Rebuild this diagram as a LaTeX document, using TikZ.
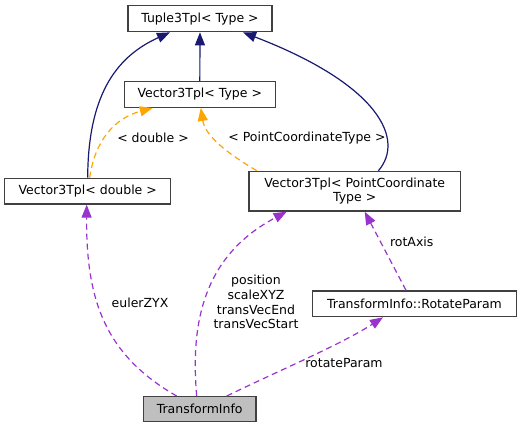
\documentclass[tikz,border=0pt]{standalone}
\usepackage{fontspec}
\setmainfont{DejaVu Sans}
\usetikzlibrary{arrows.meta}
\definecolor{inhcol}{HTML}{191970}
\definecolor{tplcol}{HTML}{FFA500}
\definecolor{usecol}{HTML}{9A32CD}
\definecolor{boxline}{HTML}{404040}
\begin{document}
\begin{tikzpicture}[x=1pt,y=-1pt,font=\fontsize{12.5}{14.7}\selectfont,
  cls/.style={draw=boxline,line width=1.3pt,fill=white,inner sep=0pt,align=center},
  inh/.style={draw=inhcol,line width=1.2pt,-{Triangle[length=13pt,width=10pt]}},
  tpl/.style={draw=tplcol,line width=1.2pt,dash pattern=on 6pt off 4pt,-{Triangle[length=13pt,width=10pt]}},
  use/.style={draw=usecol,line width=1.2pt,dash pattern=on 6pt off 4pt,-{Triangle[length=13pt,width=10pt]}}]
\useasboundingbox (0,0) rectangle (522,428);
%%% the classes
\node[cls,minimum width=144pt,minimum height=26pt] (tuple) at (200,18.7) {Tuple3Tpl< Type >};
\node[cls,minimum width=151pt,minimum height=25.6pt] (vtype) at (199.8,94.5) {Vector3Tpl< Type >};
\node[cls,minimum width=166pt,minimum height=25.7pt] (vdouble) at (87.7,191.2) {Vector3Tpl< double >};
\node[cls,minimum width=211.3pt,minimum height=39.7pt] (vpoint) at (354.7,191.2) {Vector3Tpl< PointCoordinate\\Type >};
\node[cls,minimum width=204.4pt,minimum height=25.7pt] (rotparam) at (414.5,303.8) {TransformInfo::RotateParam};
\node[cls,fill=black!25,minimum width=112.7pt,minimum height=25pt] (tinfo) at (199.7,409.2) {TransformInfo};
%%% inheritance
\draw[inh] (vtype) -- (tuple);
\draw[inh] (vdouble.north) .. controls (88,90) and (120,55) .. ([xshift=-30pt]tuple.south);
\draw[inh] ([xshift=23.7pt]vpoint.north) .. controls (405,140) and (380,85) .. ([xshift=43pt]tuple.south);
%%% template instances
\draw[tpl] ([xshift=2pt]vdouble.north) .. controls (95,140) and (115,118) .. ([xshift=-47pt]vtype.south);
\draw[tpl] ([xshift=-98pt]vpoint.north) .. controls (225,152) and (205,135) .. ([xshift=1pt]vtype.south);
\node (lbldouble) at (153,138) {< double >};
\node (lblpct) at (307,138) {< PointCoordinateType >};
%%% members
\draw[use] ([xshift=-23pt]tinfo.north) .. controls (105,355) and (86,300) .. ([xshift=-1pt]vdouble.south);
\draw[use] ([xshift=-3pt]tinfo.north) .. controls (190,320) and (205,255) .. ([xshift=-68pt]vpoint.south);
\draw[use] ([xshift=-8.5pt]rotparam.north) -- ([xshift=10pt]vpoint.south);
\draw[use] ([xshift=27pt]tinfo.north) .. controls (280,370) and (340,345) .. ([xshift=-31.5pt]rotparam.south);
\node (lbleuler) at (140,302.7) {eulerZYX};
\node[align=center] (lblvec) at (256,302) {position\\scaleXYZ\\transVecEnd\\transVecStart};
\node (lblrotaxis) at (411.7,242.3) {rotAxis};
\node (lblrotparam) at (344,363.3) {rotateParam};
\end{tikzpicture}
\end{document}
